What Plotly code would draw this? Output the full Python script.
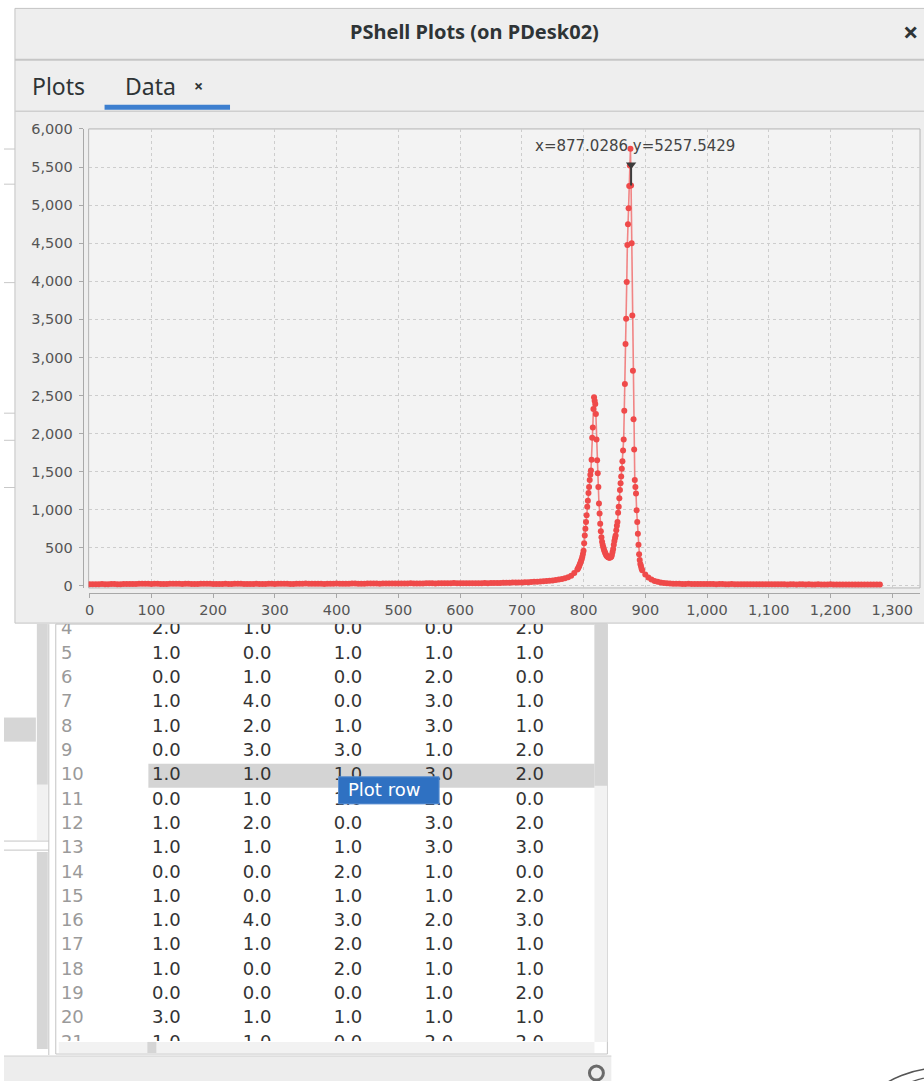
import plotly.graph_objects as go

# ---------------- data ----------------
# flat region left of the peaks, sampled every 5 units from 0 to 750
x_left = list(range(0, 755, 5))
y_left = [
    24, 23, 22, 24, 25, 23, 23, 25, 26, 24,
    24, 26, 27, 25, 25, 27, 28, 29, 30, 28,
    27, 28, 29, 27, 26, 27, 28, 29, 30, 28,
    27, 28, 29, 27, 26, 27, 28, 29, 30, 29,
    27, 26, 25, 27, 28, 27, 26, 28, 29, 28,
    27, 26, 25, 26, 28, 27, 26, 27, 29, 28,
    27, 29, 30, 29, 28, 27, 26, 28, 29, 30,
    31, 30, 28, 29, 30, 28, 27, 28, 29, 30,
    31, 29, 28, 29, 30, 31, 32, 30, 29, 30,
    31, 32, 33, 31, 30, 31, 32, 33, 34, 32,
    31, 32, 33, 34, 35, 33, 32, 33, 34, 35,
    36, 35, 34, 35, 37, 36, 35, 36, 38, 37,
    36, 35, 35, 36, 37, 36, 36, 37, 38, 37,
    38, 38, 39, 40, 41, 42, 43, 44, 45, 46,
    47, 48, 50, 52, 54, 56, 58, 61, 64, 68,
    72,
]
# peak region
x_peaks = [
    755, 760, 765, 770, 775, 780, 785,
    790, 791, 792, 793, 794, 795, 796, 797, 798, 799,
    800, 801, 802, 803, 804, 805, 806, 807, 808, 809,
    810, 811, 812, 813, 814, 815, 816, 817, 818, 819,
    820, 821, 822, 823, 824, 825, 826, 827, 828, 829,
    830, 831, 832, 833, 834, 835, 836, 837, 838, 839,
    840, 841, 842, 843, 844, 845, 846, 847, 848, 849,
    850, 851, 852, 853, 854, 855, 856, 857, 858, 859,
    860, 861, 862, 863, 864, 865, 866, 867, 868, 869,
    870, 871, 872, 873, 874, 875, 876, 877, 878, 879,
    880, 881, 882, 883, 884, 885, 886, 887, 888, 889,
    890, 891, 892, 893, 894, 895,
    900, 905, 910, 915, 920, 925, 930, 935, 940, 945, 950, 955, 960,
]
y_peaks = [
    78, 85, 92, 100, 115, 135, 170,
    215, 228, 245, 263, 285, 305, 328, 351, 385, 420,
    462, 560, 662, 750, 840, 927, 1040, 1120, 1220, 1300,
    1390, 1460, 1517, 1658, 1946, 2079, 2323, 2478, 2430, 2389,
    2256, 1924, 1650, 1480, 1300, 1082, 950, 817, 720, 639,
    580, 540, 507, 480, 455, 435, 418, 400, 390, 382,
    376, 374, 372, 375, 380, 383, 410, 445, 484, 540,
    590, 630, 662, 730, 790, 839, 960, 1040, 1150, 1260,
    1350, 1437, 1540, 1636, 1780, 1924, 2300, 2650, 3177, 3507,
    3991, 4475, 4750, 4960, 5250, 5520, 5740, 5258, 4500, 3550,
    2825, 2190, 1791, 1392, 1300, 1215, 994, 840, 684, 540,
    418, 340, 290, 263, 230, 205,
    150, 112, 86, 66, 54, 45, 39, 35, 32, 30, 29, 28, 27,
]
# flat tail right of the peaks, sampled every 5 units from 965 to 1280
x_right = list(range(965, 1285, 5))
y_right = [
    27, 28, 27, 26, 27, 26, 25, 27, 26, 25,
    24, 26, 25, 24, 23, 25, 24, 23, 24, 22,
    23, 22, 24, 23, 22, 21, 23, 22, 21, 22,
    21, 22, 21, 20, 22, 21, 20, 21, 22, 20,
    21, 20, 19, 21, 20, 19, 20, 21, 19, 20,
    19, 20, 19, 18, 20, 19, 20, 19, 18, 19,
    20, 19, 19, 18,
]
x_values = x_left + x_peaks + x_right
y_values = y_left + y_peaks + y_right

x_ticks = [0, 100, 200, 300, 400, 500, 600, 700, 800, 900, 1000, 1100, 1200, 1300]
y_ticks = [0, 500, 1000, 1500, 2000, 2500, 3000, 3500, 4000, 4500, 5000, 5500, 6000]

cursor_x = 877.0286
cursor_y = 5257.5429
cursor_tip = 5530
cursor_label = "x=877.0286 y=5257.5429"

# table shown under the plot window
table_rows = [4, 5, 6, 7, 8, 9, 10, 11, 12, 13, 14, 15, 16, 17, 18, 19, 20, 21]
col_1 = [2.0, 1.0, 0.0, 1.0, 1.0, 0.0, 1.0, 0.0, 1.0, 1.0, 0.0, 1.0, 1.0, 1.0, 1.0, 0.0, 3.0, 1.0]
col_2 = [1.0, 0.0, 1.0, 4.0, 2.0, 3.0, 1.0, 1.0, 2.0, 1.0, 0.0, 0.0, 4.0, 1.0, 0.0, 0.0, 1.0, 1.0]
col_3 = [0.0, 1.0, 0.0, 0.0, 1.0, 3.0, 1.0, 1.0, 0.0, 1.0, 2.0, 1.0, 3.0, 2.0, 2.0, 0.0, 1.0, 0.0]
col_4 = [0.0, 1.0, 2.0, 3.0, 3.0, 1.0, 3.0, 2.0, 3.0, 3.0, 1.0, 1.0, 2.0, 1.0, 1.0, 1.0, 1.0, 2.0]
col_5 = [2.0, 1.0, 0.0, 1.0, 1.0, 2.0, 2.0, 0.0, 2.0, 3.0, 0.0, 2.0, 3.0, 1.0, 1.0, 2.0, 1.0, 2.0]
table_cols = [col_1, col_2, col_3, col_4, col_5]

# ---------------- layout helpers ----------------
W, H = 924, 1081
# the photographed page comes out slightly shifted/scaled vertically; positions
# below are given in the reference picture's pixels and mapped to figure pixels
SX, OX = 1.0, 0.0
SY, OY = 0.9827, 9.6


def px(x):
    return ((x - OX) / SX) / W


def py(y):
    return 1 - ((y - OY) / SY) / H


def rect(x0, y0, x1, y1, fill, line=None, lw=0, layer="below"):
    return dict(type="rect", xref="paper", yref="paper",
                x0=px(x0), x1=px(x1), y0=py(y1), y1=py(y0),
                fillcolor=fill, line=dict(color=line or fill, width=lw), layer=layer)


def hline(x0, x1, y, color, lw=1, layer="below"):
    return dict(type="line", xref="paper", yref="paper",
                x0=px(x0), x1=px(x1), y0=py(y), y1=py(y),
                line=dict(color=color, width=lw), layer=layer)


def vline(x, y0, y1, color, lw=1, layer="below"):
    return dict(type="line", xref="paper", yref="paper",
                x0=px(x), x1=px(x), y0=py(y0), y1=py(y1),
                line=dict(color=color, width=lw), layer=layer)


def label(text, x, y, size, color, family="Noto Sans", xanchor="center"):
    return dict(text=text, x=px(x), y=py(y), xref="paper", yref="paper",
                xanchor=xanchor, yanchor="middle", showarrow=False,
                font=dict(family=family, size=size, color=color))


TXT = "#2e3436"
TICKFONT = dict(family="DejaVu Sans", size=14.5, color="#555555")

fig = go.Figure()

# main spectrum
fig.add_trace(go.Scatter(
    x=x_values, y=y_values, mode="lines+markers",
    line=dict(color="rgba(240,95,95,0.75)", width=1.6),
    marker=dict(color="#ef4a4a", size=6, line=dict(width=0)),
    xaxis="x", yaxis="y", hoverinfo="skip", showlegend=False,
))

# cursor marker
fig.add_trace(go.Scatter(
    x=[cursor_x, cursor_x], y=[cursor_y, cursor_tip], mode="lines",
    line=dict(color="#3c3c3c", width=2), xaxis="x", yaxis="y",
    hoverinfo="skip", showlegend=False,
))
fig.add_trace(go.Scatter(
    x=[cursor_x], y=[cursor_tip], mode="markers",
    marker=dict(symbol="triangle-down", size=9, color="#3c3c3c"),
    xaxis="x", yaxis="y", hoverinfo="skip", showlegend=False,
))

# table text
row_label_pos = -0.16
fig.add_trace(go.Scatter(
    x=[row_label_pos] * len(table_rows), y=table_rows, mode="text",
    text=[str(r) for r in table_rows], textposition="middle right",
    textfont=dict(family="DejaVu Sans", size=18, color="#9a9a9a"),
    xaxis="x2", yaxis="y2", hoverinfo="skip", showlegend=False, cliponaxis=True,
))
for ci, col in enumerate(table_cols, start=1):
    fig.add_trace(go.Scatter(
        x=[ci] * len(table_rows), y=table_rows, mode="text",
        text=[f"{v:.1f}" for v in col], textposition="middle center",
        textfont=dict(family="DejaVu Sans", size=18, color="#333333"),
        xaxis="x2", yaxis="y2", hoverinfo="skip", showlegend=False, cliponaxis=True,
    ))

shapes = [
    # other window at far left
    rect(0, 114, 11, 622, "#ffffff"),
    hline(0, 11, 150, "#c8c8c8"),
    hline(0, 11, 185, "#c8c8c8"),
    hline(0, 11, 283, "#c8c8c8"),
    hline(0, 11, 413, "#c8c8c8"),
    hline(0, 11, 440, "#c8c8c8"),
    hline(0, 11, 487, "#c8c8c8"),
    # plot window
    rect(11, 10, 930, 622, "#eeeeee", "#c4c4c4", 1),
    hline(11, 930, 61, "#c6c6c6", 2),
    hline(11, 930, 112.5, "#cfcfcf", 1.5),
    rect(101, 106, 227, 111, "#3d7fcf"),
    # plot area background + border
    dict(type="rect", xref="x domain", yref="y domain", x0=0, x1=1, y0=0, y1=1,
         fillcolor="#f3f3f3", line=dict(color="#b4b4b4", width=1), layer="below"),
    # lower-left panels
    rect(0, 623, 45, 1052, "#ffffff"),
    rect(33, 623, 44, 783, "#d6d6d6"),
    rect(33, 783, 44, 838, "#f1f1f1"),
    rect(0, 716, 32, 740, "#d6d6d6"),
    hline(0, 45, 839, "#c4c4c4"),
    hline(0, 45, 848, "#c4c4c4"),
    rect(33, 850, 44, 1046, "#d6d6d6"),
    vline(45, 623, 1052, "#c4c4c4"),
    # table panel
    rect(52, 623, 606, 1051, "#ffffff", "#c4c4c4", 1),
    rect(593, 623, 606, 1039, "#f2f2f2"),
    rect(593, 623, 606, 784, "#d5d5d5"),
    rect(55, 1039, 593, 1050, "#f2f2f2"),
    rect(144, 1039, 153, 1050, "#d5d5d5"),
    rect(145, 762, 593, 786, "#d4d4d4"),
    # status bar
    rect(0, 1053, 610, 1095, "#ededed"),
    hline(0, 610, 1053, "#d0d0d0"),
    # spinner and decoration at bottom
    dict(type="circle", xref="paper", yref="paper",
         x0=px(588), x1=px(602), y0=py(1077), y1=py(1063),
         line=dict(color="#6a6a6a", width=3), layer="above"),
    dict(type="circle", xref="paper", yref="paper",
         x0=px(835), x1=px(1045), y0=py(1275), y1=py(1065),
         line=dict(color="#555555", width=1.5), layer="above"),
    dict(type="circle", xref="paper", yref="paper",
         x0=px(848), x1=px(1040), y0=py(1265), y1=py(1073),
         line=dict(color="#555555", width=1.2), layer="above"),
    # context popup
    rect(336, 775, 437, 802, "#2f71c2", "#5b8fd0", 1, layer="above"),
]

annotations = [
    label("<b>PShell Plots (on PDesk02)</b>", 473, 33, 20, TXT),
    label("<b>×</b>", 910, 33, 27, TXT),
    label("Plots", 55, 87, 23, TXT),
    label("Data", 147, 87, 23, TXT),
    label("<b>×</b>", 195, 87, 16, TXT),
    dict(text=cursor_label, x=cursor_x, y=cursor_tip, xref="x", yref="y",
         xanchor="center", yanchor="middle", xshift=4, yshift=19, showarrow=False,
         font=dict(family="DejaVu Sans", size=15, color="#444444")),
    label("Plot row", 343, 788, 18, "#ffffff", family="DejaVu Sans", xanchor="left"),
]

fig.update_layout(
    width=W, height=H, autosize=False,
    margin=dict(l=0, r=0, t=0, b=0),
    paper_bgcolor="#ffffff", plot_bgcolor="rgba(0,0,0,0)",
    showlegend=False,
    xaxis=dict(
        domain=[px(85), px(920)], range=[-1.6, 1345],
        anchor="free", position=py(592),
        tickmode="array", tickvals=x_ticks, tickformat=",d",
        showgrid=True, gridcolor="#cdcdcd", griddash="3px,3px", gridwidth=1,
        zeroline=False, showline=True, linecolor="#a8a8a8", linewidth=1,
        ticks="outside", ticklen=4, tickcolor="#a8a8a8", tickfont=TICKFONT,
    ),
    yaxis=dict(
        domain=[py(587), py(130)], range=[-26, 6000],
        anchor="free", position=px(79),
        tickmode="array", tickvals=y_ticks, tickformat=",d",
        showgrid=True, gridcolor="#cdcdcd", griddash="3px,3px", gridwidth=1,
        zeroline=False, showline=True, linecolor="#a8a8a8", linewidth=1,
        ticks="outside", ticklen=4, tickcolor="#a8a8a8", tickfont=TICKFONT,
        ticklabelstandoff=3,
    ),
    xaxis2=dict(domain=[px(55), px(593)], range=[-0.1836, 5.712], anchor="y2", visible=False,
                showgrid=False, zeroline=False),
    yaxis2=dict(domain=[py(1038), py(623)], range=[20.909, 3.76], anchor="x2", visible=False,
                showgrid=False, zeroline=False),
    shapes=shapes,
    annotations=annotations,
)

page_fix = (
    "var d=document.getElementById('{plot_id}');"
    "d.style.position='fixed';d.style.left='0px';d.style.top='0px';"
    "document.body.style.margin='0';document.body.style.padding='0';"
    "document.documentElement.style.overflow='hidden';document.body.style.overflow='hidden';"
)

fig.write_html("out.html", post_script=page_fix,
               config={"displayModeBar": False, "responsive": False})
